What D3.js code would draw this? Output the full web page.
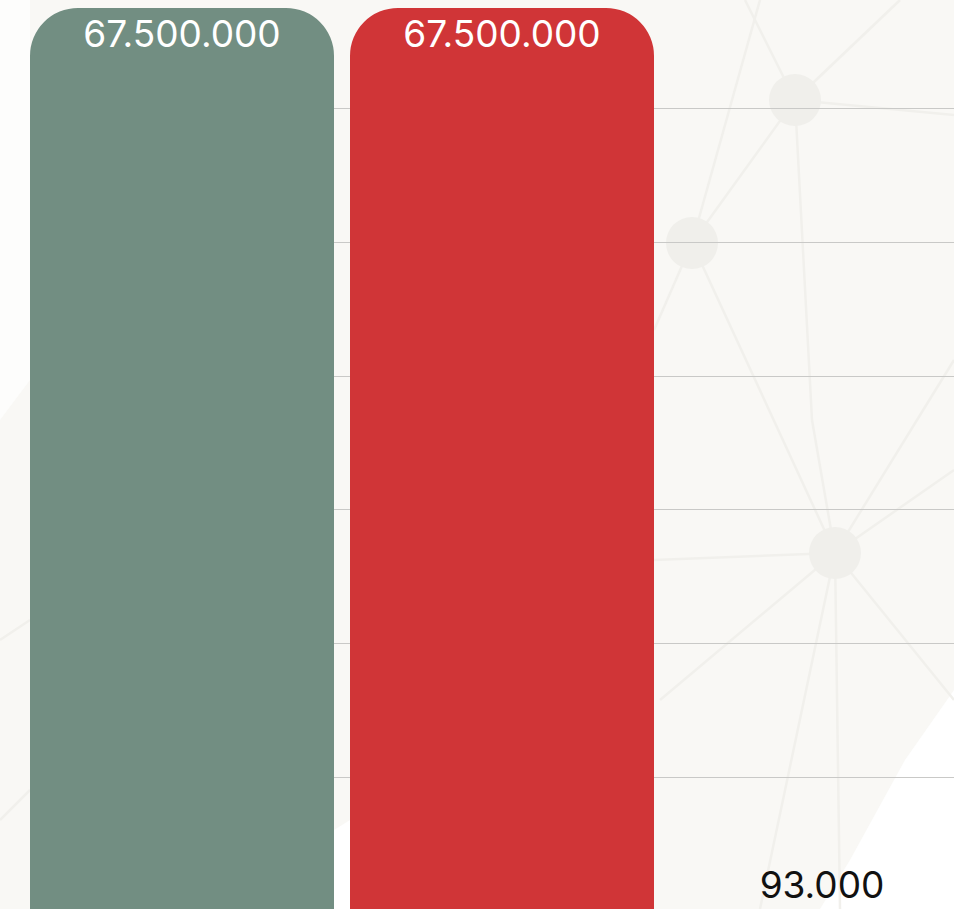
<!DOCTYPE html>
<html>
<head>
<meta charset="utf-8">
<script src="https://cdn.jsdelivr.net/npm/d3@7"></script>
<style>
  html, body { margin: 0; padding: 0; background: #ffffff; overflow: hidden; }
  svg { display: block; }
</style>
</head>
<body>
<svg id="chart" width="954" height="909"></svg>
<script>
// ---- data ----
const categories = ["Kategorie 1", "Kategorie 2", "Kategorie 3"];
const values = [67500000, 67500000, 93000];
const barColors = ["#728e82", "#d03537", "#728e82"];
const gridTicks = [10000000, 20000000, 30000000, 40000000, 50000000, 60000000];

// ---- setup ----
const W = 954, H = 909;
const svg = d3.select("#chart");

// background (paper-like texture approximation)
const bg = svg.append("g");
bg.append("rect").attr("width", W).attr("height", H).attr("fill", "#f9f8f5");
bg.append("path").attr("d", "M0,0 L30,0 L30,380 L0,420 Z").attr("fill", "#fdfdfc");
bg.append("path").attr("d", "M954,690 L905,760 L850,860 L820,909 L954,909 Z").attr("fill", "#ffffff");
bg.append("path").attr("d", "M334,830 L350,820 L350,909 L334,909 Z").attr("fill", "#ffffff");
const net = bg.append("g").attr("stroke", "#f1f0ec").attr("stroke-width", 2.5).attr("fill", "none");
const nodes = [[795,100],[692,243],[835,553]];
const links = [
  [[795,100],[745,0]], [[795,100],[900,0]], [[795,100],[954,115]], [[795,100],[692,243]],
  [[795,100],[812,420]], [[692,243],[654,330]], [[692,243],[835,553]], [[692,243],[760,0]],
  [[835,553],[954,470]], [[835,553],[954,700]], [[835,553],[760,909]], [[835,553],[660,700]],
  [[835,553],[654,560]], [[835,553],[840,909]], [[835,553],[954,360]], [[812,420],[835,553]],
  [[0,640],[30,620]], [[0,820],[30,790]]
];
links.forEach(l => net.append("line").attr("x1", l[0][0]).attr("y1", l[0][1]).attr("x2", l[1][0]).attr("y2", l[1][1]));
nodes.forEach(n => bg.append("circle").attr("cx", n[0]).attr("cy", n[1]).attr("r", 26).attr("fill", "#f0efeb"));

// scales
const x = d3.scaleBand().domain(categories).range([22, 982]).paddingInner(0.05).paddingOuter(0.025);
const y = d3.scaleLinear().domain([0, 70000000]).range([910.4, 910.4 - 7 * 133.7]);

// gridlines
svg.append("g").selectAll("line").data(gridTicks).join("line")
  .attr("x1", 30).attr("x2", W)
  .attr("y1", d => Math.round(y(d)) + 0.5).attr("y2", d => Math.round(y(d)) + 0.5)
  .attr("stroke", "#c9c9c7").attr("stroke-width", 1);

// bars with rounded top corners
function barPath(x0, w, top, bottom, r) {
  const h = bottom - top;
  const rr = Math.max(0, Math.min(r, h, w / 2));
  return `M${x0},${bottom} L${x0},${top + rr} A${rr},${rr} 0 0 1 ${x0 + rr},${top} L${x0 + w - rr},${top} A${rr},${rr} 0 0 1 ${x0 + w},${top + rr} L${x0 + w},${bottom} Z`;
}
const bars = categories.map((c, i) => ({ c, v: values[i], col: barColors[i] }));
svg.append("g").selectAll("path").data(bars).join("path")
  .attr("d", d => barPath(x(d.c), x.bandwidth(), y(d.v), y(0), 48))
  .attr("fill", d => d.col);

// value labels
const fmt = v => d3.format(",")(v).replace(/,/g, ".");
svg.append("g").selectAll("text").data(bars).join("text")
  .attr("x", d => x(d.c) + x.bandwidth() / 2)
  .attr("y", d => (y(0) - y(d.v) > 60) ? y(d.v) + 39 : y(d.v) - 11.5)
  .attr("text-anchor", "middle")
  .attr("font-family", "Inter, 'Noto Sans', sans-serif")
  .attr("font-size", 37)
  .attr("fill", d => (y(0) - y(d.v) > 60) ? "#ffffff" : "#111111")
  .text(d => fmt(d.v));
</script>
</body>
</html>
